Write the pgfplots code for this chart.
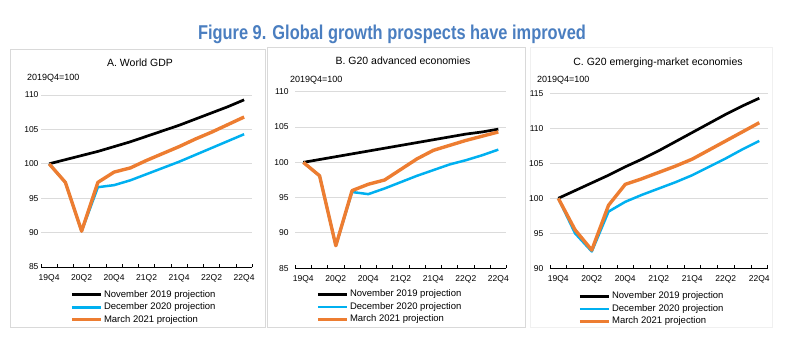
\documentclass[border=0pt]{standalone}
\usepackage{pgfplots}
\pgfplotsset{compat=1.18}
\usepackage{fontspec}
\setmainfont{Liberation Sans}
\newfontfamily\titlefont[FakeStretch=0.82]{Liberation Sans}
\definecolor{cblack}{RGB}{0,0,0}
\definecolor{cblue}{RGB}{0,176,240}
\definecolor{corange}{RGB}{237,125,49}
\definecolor{ctitle}{RGB}{74,126,192}
\pgfplotsset{
  gstyle/.style={
    scale only axis, anchor=south west, clip=false,
    xmin=-0.5, xmax=12.5,
    axis x line*=bottom, axis y line*=left,
    axis line style={-},
    y axis line style={draw=none},
    x axis line style={black, line width=0.7pt},
    ymajorgrids, major grid style={gray!28, line width=1pt},
    xtick={0,2,...,12},
    xticklabels={19Q4,20Q2,20Q4,21Q2,21Q4,22Q2,22Q4},
    minor xtick={-0.5,0.5,...,12.5},
    major tick length=0pt, minor tick length=3pt, tick align=inside,
    minor tick style={black, line width=0.6pt},
    tick label style={font=\fontsize{8.5}{10}\selectfont},
    /pgf/number format/assume math mode=true,
    xticklabel style={yshift=-4pt},
    legend cell align=left,
    legend image code/.code={\draw[#1] (0pt,0pt) -- (29pt,0pt);},
    legend style={draw=none, fill=none, anchor=north west, inner sep=0pt,
      font=\fontsize{9.5}{11}\selectfont,
      nodes={inner sep=1.5pt, text height=7pt, text depth=2.5pt}},
  },
  lblack/.style={draw=cblack, line width=2.7pt, line join=round, no markers},
  lblue/.style={draw=cblue, line width=2.5pt, line join=round, no markers},
  lorange/.style={draw=corange, line width=3.4pt, line join=round, no markers},
}
\begin{document}
\begin{tikzpicture}[x=1pt,y=1pt]
\useasboundingbox (0,0) rectangle (800,338);
% frames
\draw[gray!30, line width=0.8pt] (10,11) rectangle (265,289);
\draw[gray!30, line width=0.8pt] (267,11) rectangle (525,291);
\draw[gray!12, line width=0.8pt] (530,11) rectangle (772,291);
% main title
\node[anchor=base, text=ctitle, font=\titlefont\bfseries\fontsize{20}{22}\selectfont] at (392,298) {Figure 9. Global growth prospects have improved};
% panel titles
\node[anchor=base, font=\fontsize{10.5}{12}\selectfont] at (140,271) {A. World GDP};
\node[anchor=base, font=\fontsize{10.5}{12}\selectfont] at (403,273) {B. G20 advanced economies};
\node[anchor=base, font=\fontsize{10.5}{12}\selectfont] at (658,272) {C. G20 emerging-market economies};
\node[anchor=base west, inner sep=0pt, font=\fontsize{9}{10}\selectfont] at (27,257) {2019Q4=100};
\node[anchor=base west, inner sep=0pt, font=\fontsize{9}{10}\selectfont] at (290,255) {2019Q4=100};
\node[anchor=base west, inner sep=0pt, font=\fontsize{9}{10}\selectfont] at (537,255) {2019Q4=100};

% Panel A
\begin{axis}[gstyle, at={(41pt,71pt)}, width=211.25pt, height=172pt,
  ymin=85, ymax=110, ytick={85,90,...,110},
  yticklabel style={xshift=1pt},
  legend style={at={(0.137,-0.124)}}]
\addplot[lblack] coordinates {(0,100) (1,100.6) (2,101.2) (3,101.8) (4,102.5) (5,103.2) (6,104.0) (7,104.8) (8,105.6) (9,106.5) (10,107.4) (11,108.3) (12,109.3)};
\addplot[lblue] coordinates {(0,100) (1,97.3) (2,90.2) (3,96.6) (4,96.9) (5,97.6) (6,98.5) (7,99.4) (8,100.3) (9,101.3) (10,102.3) (11,103.3) (12,104.3)};
\addplot[lorange] coordinates {(0,100) (1,97.3) (2,90.2) (3,97.3) (4,98.8) (5,99.4) (6,100.5) (7,101.5) (8,102.5) (9,103.6) (10,104.6) (11,105.7) (12,106.8)};
\legend{November 2019 projection, December 2020 projection, March 2021 projection}
\end{axis}

% Panel B
\begin{axis}[gstyle, at={(295.2pt,69.7pt)}, width=211.25pt, height=176.6pt,
  ymin=85, ymax=110, ytick={85,90,...,110},
  yticklabel style={xshift=-3pt},
  legend style={at={(0.098,-0.113)}}]
\addplot[lblack] coordinates {(0,100) (1,100.4) (2,100.8) (3,101.2) (4,101.6) (5,102.0) (6,102.4) (7,102.8) (8,103.2) (9,103.6) (10,104.0) (11,104.3) (12,104.7)};
\addplot[lblue] coordinates {(0,100) (1,98.1) (2,88.2) (3,95.8) (4,95.5) (5,96.3) (6,97.2) (7,98.1) (8,98.9) (9,99.7) (10,100.3) (11,101.0) (12,101.8)};
\addplot[lorange] coordinates {(0,100) (1,98.1) (2,88.2) (3,96.0) (4,96.9) (5,97.5) (6,99.0) (7,100.5) (8,101.7) (9,102.4) (10,103.1) (11,103.7) (12,104.3)};
\legend{November 2019 projection, December 2020 projection, March 2021 projection}
\end{axis}

% Panel C
\begin{axis}[gstyle, at={(549.9pt,69.7pt)}, width=217.75pt, height=175pt,
  ymin=90, ymax=115, ytick={90,95,...,115},
  yticklabel style={xshift=-3pt},
  legend style={at={(0.129,-0.124)}}]
\addplot[lblack] coordinates {(0,100) (1,101.1) (2,102.2) (3,103.3) (4,104.5) (5,105.6) (6,106.8) (7,108.1) (8,109.4) (9,110.7) (10,112.0) (11,113.2) (12,114.3)};
\addplot[lblue] coordinates {(0,100) (1,95.0) (2,92.4) (3,98.1) (4,99.5) (5,100.5) (6,101.4) (7,102.3) (8,103.3) (9,104.5) (10,105.7) (11,107.0) (12,108.2)};
\addplot[lorange] coordinates {(0,100) (1,95.5) (2,92.6) (3,99.0) (4,102.0) (5,102.8) (6,103.7) (7,104.6) (8,105.6) (9,106.9) (10,108.2) (11,109.5) (12,110.8)};
\legend{November 2019 projection, December 2020 projection, March 2021 projection}
\end{axis}
\end{tikzpicture}
\end{document}
